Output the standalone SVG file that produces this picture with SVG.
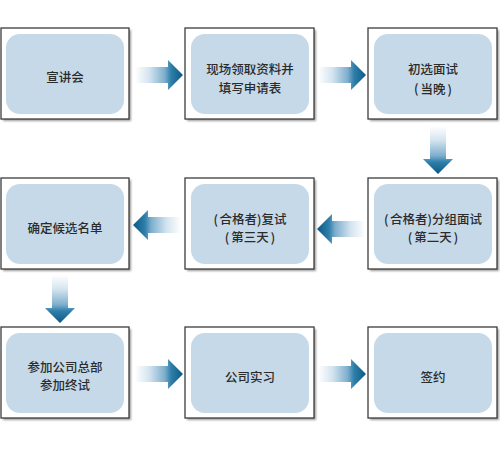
<svg xmlns="http://www.w3.org/2000/svg" width="500" height="450" viewBox="0 0 500 450">
<defs>
<linearGradient id="ag" gradientUnits="userSpaceOnUse" x1="0" y1="0" x2="48" y2="0">
<stop offset="0" stop-color="#ffffff"/>
<stop offset="0.3" stop-color="#d3e4ef"/>
<stop offset="0.62" stop-color="#7eaecd"/>
<stop offset="0.75" stop-color="#2f7fab"/>
<stop offset="1" stop-color="#0c5884"/>
</linearGradient>
<path id="arrow" d="M0,-8 L33,-8 L33,-15 L48,0 L33,15 L33,8 L0,8 Z" fill="url(#ag)"/>
<filter id="sh" x="-10%" y="-10%" width="130%" height="130%">
<feGaussianBlur stdDeviation="0.8"/>
</filter>
</defs>
<style>
.shadow{fill:#9a9a9a;filter:url(#sh)}
.outer{fill:#ffffff;stroke:#3c3c3c;stroke-width:1.3}
.inner{fill:#c6d9e8}
.t{font-family:"Noto Sans CJK SC","Noto Sans",sans-serif;font-size:12.5px;font-weight:500;fill:#2b2b2b;text-anchor:middle;dominant-baseline:central}
</style>
<rect width="500" height="450" fill="#ffffff"/>

<g id="n1">
<rect class="shadow" x="3" y="30" width="128" height="91"/>
<rect class="outer" x="1" y="28" width="128" height="91"/>
<rect class="inner" x="6" y="34" width="118" height="80" rx="14"/>
<text class="t" x="65" y="76">宣讲会</text>
</g>
<g id="n2">
<rect class="shadow" x="187" y="30" width="129" height="91"/>
<rect class="outer" x="185" y="28" width="129" height="91"/>
<rect class="inner" x="191" y="34" width="118" height="80" rx="14"/>
<text class="t" x="250" y="68.5">现场领取资料并</text>
<text class="t" x="250" y="87.5">填写申请表</text>
</g>
<g id="n3">
<rect class="shadow" x="370" y="30" width="129" height="91"/>
<rect class="outer" x="368" y="28" width="129" height="91"/>
<rect class="inner" x="374" y="34" width="118" height="80" rx="14"/>
<text class="t" x="433" y="68.5">初选面试</text>
<text class="t" x="433" y="87.5">(<tspan dx="2">当晚</tspan><tspan dx="2">)</tspan></text>
</g>

<g id="n4">
<rect class="shadow" x="370" y="180" width="129" height="91"/>
<rect class="outer" x="368" y="178" width="129" height="91"/>
<rect class="inner" x="374" y="184" width="118" height="80" rx="14"/>
<text class="t" x="433" y="218">(<tspan dx="1.5">合格者</tspan>)分组面试</text>
<text class="t" x="433" y="236">(<tspan dx="2">第二天</tspan><tspan dx="2">)</tspan></text>
</g>
<g id="n5">
<rect class="shadow" x="187" y="180" width="129" height="91"/>
<rect class="outer" x="185" y="178" width="129" height="91"/>
<rect class="inner" x="191" y="184" width="118" height="80" rx="14"/>
<text class="t" x="250" y="218">(<tspan dx="1.5">合格者</tspan>)复试</text>
<text class="t" x="250" y="236">(<tspan dx="2">第三天</tspan><tspan dx="2">)</tspan></text>
</g>
<g id="n6">
<rect class="shadow" x="3" y="180" width="128" height="91"/>
<rect class="outer" x="1" y="178" width="128" height="91"/>
<rect class="inner" x="6" y="184" width="118" height="80" rx="14"/>
<text class="t" x="65" y="227">确定候选名单</text>
</g>

<g id="n7">
<rect class="shadow" x="3" y="329" width="128" height="91"/>
<rect class="outer" x="1" y="327" width="128" height="91"/>
<rect class="inner" x="6" y="333" width="118" height="80" rx="14"/>
<text class="t" x="65" y="366">参加公司总部</text>
<text class="t" x="65" y="384">参加终试</text>
</g>
<g id="n8">
<rect class="shadow" x="187" y="329" width="129" height="91"/>
<rect class="outer" x="185" y="327" width="129" height="91"/>
<rect class="inner" x="191" y="333" width="118" height="80" rx="14"/>
<text class="t" x="250" y="376">公司实习</text>
</g>
<g id="n9">
<rect class="shadow" x="370" y="329" width="129" height="91"/>
<rect class="outer" x="368" y="327" width="129" height="91"/>
<rect class="inner" x="374" y="333" width="118" height="80" rx="14"/>
<text class="t" x="433" y="376">签约</text>
</g>

<g id="connectors">
<use href="#arrow" transform="translate(135,75)"/>
<use href="#arrow" transform="translate(318,75)"/>
<use href="#arrow" transform="translate(438,126) rotate(90)"/>
<use href="#arrow" transform="translate(365,229) rotate(180)"/>
<use href="#arrow" transform="translate(181,225) rotate(180)"/>
<use href="#arrow" transform="translate(60,275) rotate(90)"/>
<use href="#arrow" transform="translate(135,374)"/>
<use href="#arrow" transform="translate(318,374)"/>
</g>
</svg>
